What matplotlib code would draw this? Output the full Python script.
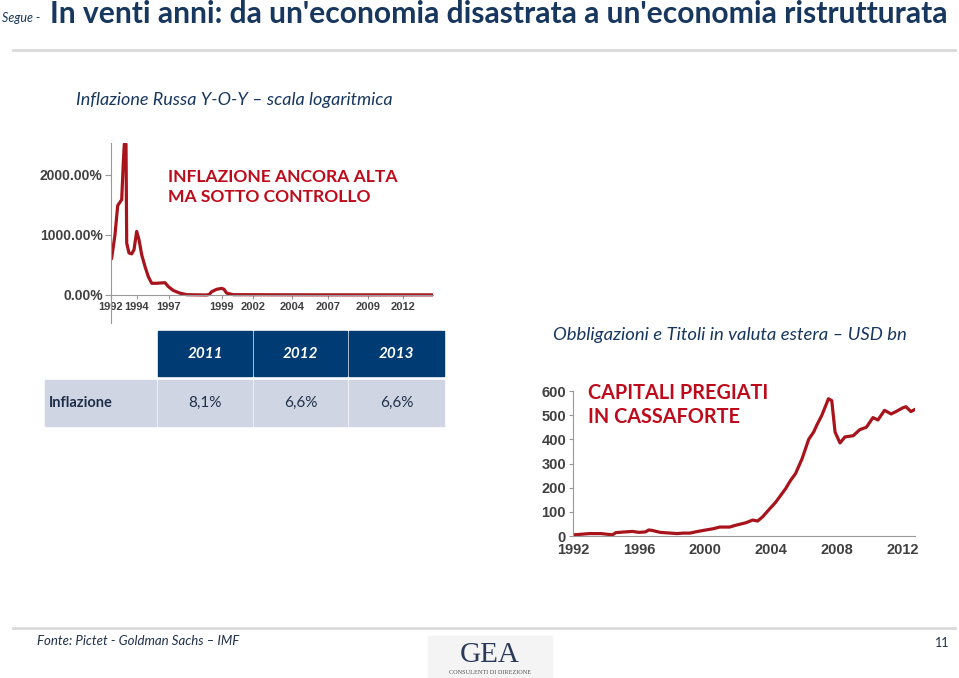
import numpy as np
import matplotlib
matplotlib.use('Agg')
from matplotlib import pyplot as plt
from matplotlib.patches import Rectangle

# --- dati ---
# inflazione russa (posizione sull'asse categorie, valore %)
infl_pos = [0.7, 4, 6.7, 9.7, 10.7, 12.3, 13.3, 15, 15.7, 18, 20.7, 23, 25.7, 28,
            30.7, 34, 37.3, 40.7, 45.7, 54, 57.3, 62.3, 69, 75.7, 95.7, 98.3,
            100.7, 105.7, 110.7, 113, 115.7, 122.3, 175.7, 242.3, 322]
infl_val = [615, 1005, 1490, 1565, 1590, 2205, 2515, 2515, 865, 700, 685, 755, 1060, 920,
            670, 475, 305, 195, 195, 205, 140, 75, 30, 5, 0, 10,
            55, 95, 110, 95, 30, 5, 3, 2, 2]
infl_tick_pos = [0, 25.7, 58, 110.7, 142.3, 180.7, 217.3, 257.3, 292.3]
infl_tick_lab = ['1992', '1994', '1997', '1999', '2002', '2004', '2007', '2009', '2012']

# obbligazioni e titoli in valuta estera, USD bn
cap_year = [1992.1, 1993.0, 1993.7, 1994.1, 1994.4, 1994.6, 1995.2, 1995.6, 1996.0, 1996.4,
            1996.6, 1996.8, 1997.3, 1997.9, 1998.3, 1998.7, 1999.1, 1999.5, 1999.9, 2000.5,
            2000.9, 2001.5, 2001.9, 2002.5, 2002.9, 2003.2, 2003.5, 2003.9, 2004.3, 2004.9,
            2005.2, 2005.5, 2005.9, 2006.3, 2006.6, 2006.8, 2007.1, 2007.3, 2007.5, 2007.7,
            2007.9, 2008.2, 2008.5, 2009.0, 2009.4, 2009.8, 2010.2, 2010.5, 2010.9, 2011.3,
            2011.6, 2012.0, 2012.2, 2012.5, 2012.7]
cap_val = [5, 10, 10, 7, 5, 14, 17, 19, 15, 17,
           25, 23, 15, 12, 10, 12, 12, 18, 23, 30,
           37, 37, 45, 55, 66, 62, 79, 110, 140, 196,
           230, 258, 320, 400, 430, 460, 500, 534, 568, 560,
           430, 385, 410, 415, 440, 450, 490, 480, 520, 505,
           515, 530, 535, 515, 522]
cap_ticks = [1992, 1996, 2000, 2004, 2008, 2012]

tab_years = ['2011', '2012', '2013']
tab_infl = ['8,1%', '6,6%', '6,6%']

W, H = 959, 678
navy = '#17375E'
red = '#BE0A1A'
line_red = '#A8141C'
tick_col = '#404040'
fam = ['Lato', 'DejaVu Sans']

fig = plt.figure(figsize=(W / 100, H / 100), dpi=100)
bg = fig.add_axes([0, 0, 1, 1])
bg.set_xlim(0, W)
bg.set_ylim(H, 0)
bg.axis('off')

# titolo
bg.text(2, 18, 'Segue -', fontsize=9, style='italic', color=navy, family=fam, va='center')
bg.text(50, 14, "In venti anni: da un'economia disastrata a un'economia ristrutturata",
        fontsize=21.6, fontweight='bold', color=navy, family=fam, va='center')
bg.plot([13, 955], [50, 50], color='#D9D9D9', lw=2)

bg.text(76, 100, 'Inflazione Russa Y-O-Y \u2013 scala logaritmica', fontsize=13,
        style='italic', color=navy, family=fam, va='center')
bg.text(168, 187, 'INFLAZIONE ANCORA ALTA\nMA SOTTO CONTROLLO', fontsize=12.6,
        fontweight='bold', color=red, family=fam, va='center', linespacing=1.25)

# tabella
col_x = [(158, 252), (254, 347), (349, 444)]
for (x0, x1), y in zip(col_x, tab_years):
    bg.add_patch(Rectangle((x0, 331), x1 - x0, 45, color='#003B73'))
    bg.text((x0 + x1) / 2, 354, y, color='white', fontsize=11, fontweight='bold',
            style='italic', ha='center', va='center', family=fam)
bg.add_patch(Rectangle((45, 380), 111, 46, color='#CFD5E3'))
bg.text(49, 403, 'Inflazione', color='#1F2F4A', fontsize=10.5, fontweight='bold',
        va='center', family=fam)
for (x0, x1), v in zip(col_x, tab_infl):
    bg.add_patch(Rectangle((x0, 380), x1 - x0, 46, color='#CFD5E3'))
    bg.text((x0 + x1) / 2, 403, v, color='#1F2F4A', fontsize=11,
            ha='center', va='center', family=fam)

bg.text(553, 335, 'Obbligazioni e Titoli in valuta estera \u2013 USD bn', fontsize=13.3,
        style='italic', color=navy, family=fam, va='center')
bg.text(588, 405, 'CAPITALI PREGIATI\nIN CASSAFORTE', fontsize=14.3,
        fontweight='bold', color=red, family=fam, va='center', linespacing=1.2)

# piè di pagina
bg.plot([13, 955], [628, 628], color='#D9D9D9', lw=2)
bg.text(37, 641, 'Fonte: Pictet - Goldman Sachs \u2013 IMF', fontsize=9.5, style='italic',
        color='#1F2F4A', family=fam, va='center')
bg.text(935, 643, '11', fontsize=9, color='#1F2F4A', family=fam, va='center')
bg.add_patch(Rectangle((428, 636), 124, 42, color='#F4F4F4'))
bg.text(490, 655, 'GEA', fontsize=21, color='#2A3A5A', family='Liberation Serif',
        ha='center', va='center')
bg.text(490, 673, 'CONSULENTI DI DIREZIONE', fontsize=4.5, color='#555555',
        family='Liberation Serif', ha='center', va='center')


def box(x0, y0, x1, y1):
    return [x0 / W, 1 - y1 / H, (x1 - x0) / W, (y1 - y0) / H]


# grafico inflazione
ax1 = fig.add_axes(box(111, 143, 433, 323))
ax1.plot(infl_pos, infl_val, color=line_red, lw=2.3)
ax1.set_xlim(0, 322)
ax1.set_ylim(-467, 2533)
ax1.spines['top'].set_visible(False)
ax1.spines['right'].set_visible(False)
ax1.spines['bottom'].set_position(('data', 0))
for s in ['left', 'bottom']:
    ax1.spines[s].set_color('#999999')
ax1.set_yticks([0, 1000, 2000])
ax1.set_yticklabels(['0.00%', '1000.00%', '2000.00%'])
ax1.set_xticks(infl_tick_pos)
ax1.set_xticklabels(infl_tick_lab)
ax1.tick_params(axis='y', length=4, color='#999999', labelsize=10, labelcolor=tick_col, pad=2)
ax1.tick_params(axis='x', length=3, color='#999999', labelsize=8, labelcolor=tick_col, pad=2)
for t in ax1.get_xticklabels() + ax1.get_yticklabels():
    t.set_fontweight('bold')
    t.set_family('Liberation Sans')
ax1.patch.set_alpha(0)

# grafico capitali
ax2 = fig.add_axes(box(573, 391, 915, 536))
ax2.plot(cap_year, cap_val, color=line_red, lw=2.3)
ax2.set_xlim(1992, 2012.75)
ax2.set_ylim(0, 600)
ax2.spines['top'].set_visible(False)
ax2.spines['right'].set_visible(False)
for s in ['left', 'bottom']:
    ax2.spines[s].set_color('#999999')
ax2.set_yticks(np.arange(0, 601, 100))
ax2.set_xticks(cap_ticks)
ax2.tick_params(axis='y', length=3, color='#999999', labelsize=10.5, labelcolor=tick_col, pad=2)
ax2.tick_params(axis='x', length=0, labelsize=10.5, labelcolor=tick_col, pad=5)
for t in ax2.get_xticklabels() + ax2.get_yticklabels():
    t.set_fontweight('bold')
    t.set_family('Liberation Sans')
ax2.patch.set_alpha(0)

fig.savefig('out.png', dpi=100)
